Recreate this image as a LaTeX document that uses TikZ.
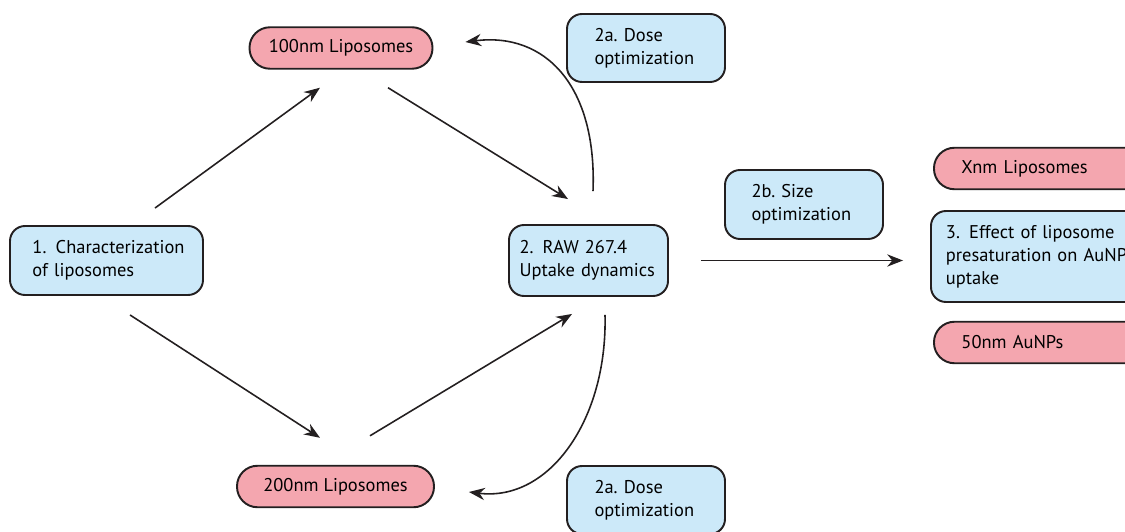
\documentclass[tikz,border=0pt]{standalone}
\usepackage{fontspec}
\setmainfont{PT Sans}
\usepackage{xcolor}
\usetikzlibrary{arrows.meta, positioning, calc}

\definecolor{stageblue}{HTML}{CCE9F9}
\definecolor{samplepink}{HTML}{F4A6AF}
\definecolor{inkline}{HTML}{231F20}

\begin{document}
\begin{tikzpicture}[
    stage/.style={draw=inkline, line width=1.1pt, fill=stageblue, rounded corners=0.3cm,
      align=left, font=\fontsize{10.5}{13}\selectfont, text=black},
    sample/.style={draw=inkline, line width=1.1pt, fill=samplepink, rounded corners=0.41cm,
      minimum height=0.83cm, font=\fontsize{10.5}{13}\selectfont, text=black},
    flow/.style={draw=inkline, line width=0.9pt, -{Stealth[length=9pt,width=7pt]}}
  ]
  % frame of the reference, 50 px per cm
  \useasboundingbox (0,0) rectangle (22.5,10.62);
  % sample boxes (pink)
  \node[sample, minimum width=3.66cm] (lip100) at (6.82,9.66) {100nm Liposomes};
  \node[sample, minimum width=3.94cm] (lip200) at (6.71,0.89) {200nm Liposomes};
  \node[sample, minimum width=4.8cm, anchor=west, text width=3.7cm, inner xsep=0.55cm]
    (lipx) at (18.66,7.25) {Xnm Liposomes};
  \node[sample, minimum width=4.8cm, anchor=west, text width=3.7cm, inner xsep=0.55cm]
    (aunp) at (18.66,3.77) {50nm AuNPs};
  % stage boxes (blue)
  \node[stage, minimum width=3.86cm, minimum height=1.38cm, text width=2.96cm, inner xsep=0.45cm]
    (char) at (2.13,5.41) {1.\enspace Characterization\\of liposomes};
  \node[stage, minimum width=3.18cm, minimum height=1.42cm, text width=2.76cm, inner xsep=0.21cm]
    (raw) at (11.77,5.41) {2.\enspace RAW 267.4\\Uptake dynamics};
  \node[stage, minimum width=3.16cm, minimum height=1.36cm, text width=2.06cm, inner xsep=0.55cm]
    (dosetop) at (12.92,9.66) {2a.~Dose\\optimization};
  \node[stage, minimum width=3.16cm, minimum height=1.36cm, text width=2.06cm, inner xsep=0.55cm]
    (dosebot) at (12.92,0.62) {2a.~Dose\\optimization};
  \node[stage, minimum width=3.16cm, minimum height=1.38cm, text width=2.1cm, inner xsep=0.53cm]
    (size) at (16.08,6.53) {2b.~Size\\optimization};
  \node[stage, minimum width=4.8cm, minimum height=1.82cm, anchor=west, text width=4.2cm, inner xsep=0.3cm]
    (eff) at (18.60,5.49) {3.\enspace Effect of liposome\\presaturation on AuNP\\uptake};
  % straight connectors
  \draw[flow] ([xshift=0.97cm,yshift=0.34cm]char.north) -- ([xshift=-0.42cm,yshift=-0.36cm]lip100.south);
  \draw[flow] ([xshift=0.94cm,yshift=-0.36cm]lip100.south) -- ([xshift=-0.41cm,yshift=0.50cm]raw.north);
  \draw[flow] ([xshift=0.47cm,yshift=-0.38cm]char.south) -- ([xshift=-0.31cm,yshift=0.54cm]lip200.north);
  \draw[flow] ([xshift=0.69cm,yshift=0.58cm]lip200.north) -- ([xshift=-0.33cm,yshift=-0.34cm]raw.south);
  \draw[flow] ([xshift=0.64cm]raw.east) -- ([xshift=-0.54cm]eff.west |- raw.east);
  % dose feedback loops
  \draw[flow] ([xshift=0.09cm,yshift=0.66cm]raw.north)
    .. controls +(0.08,2.1) and +(1.6,0.2) .. ([xshift=0.64cm,yshift=0.12cm]lip100.east);
  \draw[flow] ([xshift=0.33cm,yshift=-0.36cm]raw.south)
    .. controls +(0.05,-2.1) and +(1.6,-0.2) .. ([xshift=0.68cm,yshift=-0.11cm]lip200.east);
\end{tikzpicture}
\end{document}
